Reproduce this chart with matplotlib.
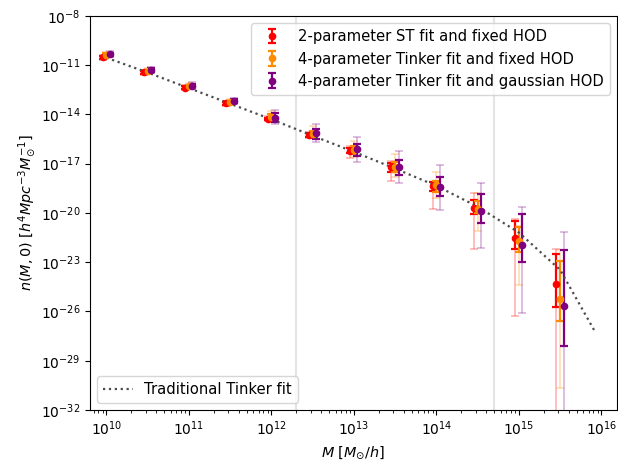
import numpy as np
import matplotlib
matplotlib.use("Agg")
import matplotlib.pyplot as plt
from matplotlib.ticker import NullLocator, FixedLocator

# ---------------- data (log10 values) ----------------
mass = [1e10, 3.16e10, 1e11, 3.16e11, 1e12, 3.16e12, 1e13, 3.16e13, 1e14, 3.16e14, 1e15, 3.16e15]

red_log = [-10.52, -11.43, -12.37, -13.32, -14.27, -15.25, -16.20, -17.21, -18.35, -19.71, -21.50, -24.32]
orange_log = [-10.37, -11.35, -12.26, -13.24, -14.17, -15.19, -16.16, -17.18, -18.29, -19.75, -21.69, -25.22]
purple_log = [-10.33, -11.29, -12.24, -13.18, -14.19, -15.14, -16.12, -17.21, -18.40, -19.86, -21.97, -25.66]

# opaque (inner) error bars, in dex below / above
red_in_lo = [0.08, 0.08, 0.08, 0.08, 0.08, 0.12, 0.16, 0.27, 0.29, 0.35, 0.69, 1.42]
red_in_hi = [0.08, 0.08, 0.08, 0.08, 0.08, 0.12, 0.18, 0.24, 0.22, 0.50, 1.02, 1.83]
orange_in_lo = [0.08, 0.08, 0.08, 0.08, 0.16, 0.22, 0.26, 0.30, 0.41, 0.27, 0.68, 1.35]
orange_in_hi = [0.08, 0.08, 0.08, 0.08, 0.20, 0.20, 0.24, 0.31, 0.24, 0.50, 0.82, 2.32]
purple_in_lo = [0.10, 0.10, 0.10, 0.10, 0.25, 0.35, 0.39, 0.47, 0.56, 0.76, 0.99, 2.42]
purple_in_hi = [0.10, 0.10, 0.10, 0.10, 0.26, 0.26, 0.32, 0.44, 0.58, 1.02, 1.89, 3.41]

# faint (outer) error bars, in dex below / above
red_out_lo = [0.15, 0.15, 0.15, 0.15, 0.15, 0.20, 0.43, 0.82, 1.40, 2.50, 4.75, 12.0]
red_out_hi = [0.15, 0.15, 0.15, 0.15, 0.15, 0.20, 0.30, 0.35, 0.25, 0.91, 1.14, 2.11]
orange_out_lo = [0.18, 0.18, 0.18, 0.18, 0.27, 0.26, 0.41, 0.61, 0.81, 1.33, 2.69, 5.45]
orange_out_hi = [0.18, 0.18, 0.18, 0.18, 0.40, 0.51, 0.55, 0.76, 0.77, 0.95, 0.90, 2.97]
purple_out_lo = [0.20, 0.20, 0.20, 0.20, 0.39, 0.55, 0.75, 0.98, 1.41, 2.27, 4.10, 12.0]
purple_out_hi = [0.20, 0.20, 0.20, 0.20, 0.47, 0.56, 0.77, 1.01, 1.34, 1.71, 2.32, 4.52]

# traditional Tinker fit curve
tinker_mass = [1e10, 3.16e10, 1e11, 3.16e11, 1e12, 3.16e12, 1e13, 3.16e13, 1e14, 3.16e14, 1e15, 3.16e15, 8.5e15]
tinker_log = [-10.55, -11.45, -12.40, -13.35, -14.30, -15.30, -16.28, -17.30, -18.35, -19.62, -21.20, -23.47, -27.30]

vlines = [2e12, 5e14]

labels = ["2-parameter ST fit and fixed HOD",
          "4-parameter Tinker fit and fixed HOD",
          "4-parameter Tinker fit and gaussian HOD"]
colors = ["red", "darkorange", "purple"]
shifts = [0.9, 1.0, 1.1]

# ---------------- plot ----------------
fig = plt.figure(figsize=(6.18, 4.62), dpi=100)
ax = fig.add_axes([0.1456, 0.1126, 0.853, 0.853])
ax.set_xscale("log")
ax.set_yscale("log")

for v in vlines:
    ax.axvline(v, color="lightgray", alpha=0.6, lw=1.5, zorder=0)

series = [
    (red_log, red_in_lo, red_in_hi, red_out_lo, red_out_hi),
    (orange_log, orange_in_lo, orange_in_hi, orange_out_lo, orange_out_hi),
    (purple_log, purple_in_lo, purple_in_hi, purple_out_lo, purple_out_hi),
]

handles = []
for (vals, ilo, ihi, olo, ohi), col, lab, sh in zip(series, colors, labels, shifts):
    x = np.array(mass) * sh
    v = np.array(vals)
    y = 10.0 ** v
    out_err = [y - 10.0 ** (v - np.array(olo)), 10.0 ** (v + np.array(ohi)) - y]
    in_err = [y - 10.0 ** (v - np.array(ilo)), 10.0 ** (v + np.array(ihi)) - y]
    ax.errorbar(x, y, yerr=out_err, fmt="none", ecolor=col, alpha=0.3,
                elinewidth=1.2, capsize=3, capthick=1.2)
    h = ax.errorbar(x, y, yerr=in_err, fmt="o", color=col, ms=4.5,
                    elinewidth=1.6, capsize=3, capthick=1.6, label=lab)
    handles.append(h)

line, = ax.plot(tinker_mass, 10.0 ** np.array(tinker_log), ls=":", color="0.3",
                lw=1.6, label="Traditional Tinker fit")

ax.set_xlim(10 ** 9.80, 10 ** 16.19)
ax.set_ylim(1e-32, 1e-8)
ax.yaxis.set_major_locator(FixedLocator([10.0 ** k for k in range(-32, -7, 3)]))
ax.yaxis.set_minor_locator(NullLocator())

ax.set_xlabel(r"$M$ [$M_{\odot}/h$]", fontsize=10.4)
ax.set_ylabel(r"$n(M, 0)$ [$h^4Mpc^{-3}M_{\odot}^{-1}$]", labelpad=2, fontsize=10.4)

leg1 = ax.legend(handles=handles, loc="upper right", fontsize=10.6)
ax.add_artist(leg1)
ax.legend(handles=[line], loc="lower left", fontsize=10.6)

fig.savefig("out.png", dpi=100)
